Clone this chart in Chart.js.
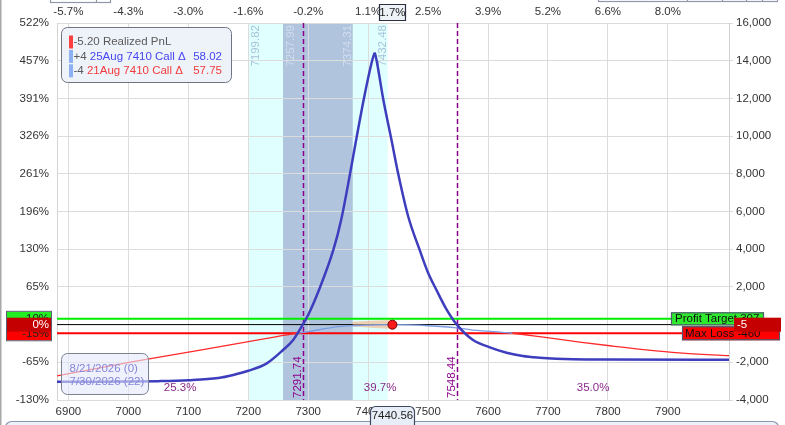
<!DOCTYPE html>
<html>
<head>
<meta charset="utf-8">
<title>Calendar P&amp;L</title>
<script src="https://cdn.jsdelivr.net/npm/chart.js@4.4.1/dist/chart.umd.min.js"></script>
<style>
  html, body { margin: 0; padding: 0; background: #fff; }
  #wrap { width: 785px; height: 425px; overflow: hidden; }
</style>
</head>
<body>
<div id="wrap"><canvas id="pnlChart" width="785" height="425"></canvas></div>
<script>
(function () {
    'use strict';

    // ---- data ----
    const xTicks = [6900, 7000, 7100, 7200, 7300, 7400, 7500, 7600, 7700, 7800, 7900];
    const topPctLabels = ['-5.7%', '-4.3%', '-3.0%', '-1.6%', '-0.2%', '1.1%', '2.5%', '3.9%', '5.2%', '6.6%', '8.0%'];
    const leftPctLabels = ['-130%', '-65%', '0%', '65%', '130%', '196%', '261%', '326%', '391%', '457%', '522%'];

    // expiry (8/21/2026) P&L
    const expPrices = [6881, 6950, 7000, 7050, 7100, 7150, 7175, 7200, 7231, 7258, 7275, 7289, 7300, 7318,
        7342, 7355, 7370, 7380, 7393, 7407, 7411, 7414, 7425, 7439, 7450, 7467, 7486, 7500, 7514, 7530,
        7548, 7575, 7603, 7631, 7658, 7686, 7714, 7742, 7800, 8002];
    const expPnl = [-3030, -3030, -3020, -3000, -2950, -2830, -2670, -2450, -2055, -1350, -815, -110, 510, 1835,
        3960, 5550, 8030, 9790, 12000, 14040, 14430, 14040, 12000, 9790, 8030, 5720, 3960, 2750, 1835, 850,
        0, -817, -1205, -1490, -1665, -1755, -1810, -1840, -1855, -1860];

    // today (7/30/2026) P&L
    const nowPrices = [6881, 7008, 7120, 7231, 7270, 7283, 7300, 7350, 7395, 7440, 7500, 7548, 7575, 7600,
        7641, 7686, 7753, 7808, 7864, 7919, 8002];
    const nowPnl = [-2725, -1970, -1350, -730, -515, -460, -375, -110, -30, -5, -60, -170, -290, -350,
        -460, -640, -930, -1140, -1340, -1500, -1650];

    // orange range band near the current price
    const bandPrices = [7374, 7405, 7440.56];
    const bandUpper = [150, 200, 250];
    const bandLower = [-100, -170, -240];

    const currentPrice = 7440.56;
    const currentPnl = -5;
    const currentPctLabel = '1.7%';
    const outerRange = [7199.82, 7432.48];
    const innerRange = [7257.99, 7374.31];
    const breakEvens = [7291.74, 7548.44];
    const probLabels = ['25.3%', '39.7%', '35.0%'];
    const profitTarget = 307;
    const maxLoss = -460;

    const legendQty = ['-5.20', '+4', '-4'];
    const legendNames = ['Realized PnL', '25Aug 7410 Call \u0394', '21Aug 7410 Call \u0394'];
    const legendDeltas = ['', '58.02', '57.75'];
    const dateLabels = ['8/21/2026 (0)', '7/30/2026 (22)'];

    const FONT = '"Liberation Sans", Arial, sans-serif';
    const font = size => size + 'px ' + FONT;

    const toPoints = (xs, ys) => xs.map((x, i) => ({ x, y: ys[i] }));
    const expPoints = toPoints(expPrices, expPnl);
    const peakIdx = expPnl.indexOf(Math.max(...expPnl));

    /** rotated text, reading bottom to top */
    function vText(ctx, text, x, y, color, align) {
        ctx.save();
        ctx.translate(x, y);
        ctx.rotate(-Math.PI / 2);
        ctx.font = font(11.5);
        ctx.textAlign = align;
        ctx.textBaseline = 'middle';
        ctx.fillStyle = color;
        ctx.fillText(text, 0, 0);
        ctx.restore();
    }

    function tag(ctx, x, y, w, h, fill, stroke) {
        ctx.fillStyle = fill;
        ctx.fillRect(x, y, w, h);
        if (stroke) {
            ctx.strokeStyle = stroke;
            ctx.lineWidth = 1.2;
            ctx.strokeRect(x + 0.5, y + 0.5, w - 1, h - 1);
        }
    }

    const decorations = {
        id: 'decorations',
        beforeDraw(chart) {
            const { ctx, chartArea: a, scales } = chart;
            const px = v => scales.x.getPixelForValue(v);
            ctx.save();
            ctx.fillStyle = '#e0ffff';
            ctx.fillRect(px(outerRange[0]), a.top, px(outerRange[1]) - px(outerRange[0]), a.bottom - a.top);
            ctx.fillStyle = '#b0c4de';
            ctx.fillRect(px(innerRange[0]), a.top, px(innerRange[1]) - px(innerRange[0]), a.bottom - a.top);

            vText(ctx, outerRange[0].toFixed(2), px(outerRange[0]) + 8, a.top + 2, '#a9c2d9', 'right');
            vText(ctx, innerRange[0].toFixed(2), px(innerRange[0]) + 8, a.top + 2, '#d2dded', 'right');
            vText(ctx, innerRange[1].toFixed(2), px(innerRange[1]) - 5, a.top + 2, '#d2dded', 'right');
            vText(ctx, outerRange[1].toFixed(2), px(outerRange[1]) - 5, a.top + 2, '#a9c2d9', 'right');

            // left window edge
            ctx.fillStyle = '#a8a8a8';
            ctx.fillRect(0, 0, 1.5, chart.height);
            ctx.restore();
        },
        beforeDatasetsDraw(chart) {
            const { ctx, chartArea: a, scales } = chart;
            const px = v => scales.x.getPixelForValue(v);
            const py = v => scales.y.getPixelForValue(v);
            ctx.save();
            ctx.strokeStyle = '#8b008b';
            ctx.lineWidth = 1.5;
            ctx.setLineDash([5, 3]);
            breakEvens.forEach(v => {
                ctx.beginPath();
                ctx.moveTo(Math.round(px(v)) + 0.5, a.top);
                ctx.lineTo(Math.round(px(v)) + 0.5, a.bottom);
                ctx.stroke();
            });
            ctx.setLineDash([]);

            const hLine = (v, color, w) => {
                ctx.strokeStyle = color;
                ctx.lineWidth = w;
                ctx.beginPath();
                ctx.moveTo(a.left, py(v));
                ctx.lineTo(a.right, py(v));
                ctx.stroke();
            };
            hLine(profitTarget, '#00ee00', 2);
            hLine(0, '#000', 1);
            hLine(maxLoss, '#ff0000', 2);
            ctx.restore();
        },
        afterDatasetsDraw(chart) {
            const { ctx, chartArea: a, scales } = chart;
            const px = v => scales.x.getPixelForValue(v);
            const py = v => scales.y.getPixelForValue(v);
            ctx.save();

            // break-even labels
            breakEvens.forEach(v => vText(ctx, v.toFixed(2), px(v) - 5, a.bottom - 2, '#8b008b', 'left'));

            // probability labels between break-evens
            const edges = [scales.x.min, ...breakEvens, scales.x.max];
            ctx.font = font(11.5);
            ctx.textAlign = 'center';
            ctx.textBaseline = 'middle';
            ctx.fillStyle = '#8b2a8b';
            probLabels.forEach((t, i) => ctx.fillText(t, px((edges[i] + edges[i + 1]) / 2), a.bottom - 12));

            // legend box
            ctx.beginPath();
            ctx.roundRect(61.5, 27.5, 170, 55, 6);
            ctx.fillStyle = '#eef2f9';
            ctx.fill();
            ctx.strokeStyle = '#6e7482';
            ctx.lineWidth = 1;
            ctx.stroke();
            ctx.textAlign = 'left';
            const barColors = ['#ff4040', '#8cb0f0', '#8cb0f0'];
            const nameColors = ['#5a5a5a', '#4646f0', '#f23c3c'];
            legendQty.forEach((q, i) => {
                const y = 42 + i * 14.4;
                ctx.fillStyle = barColors[i];
                ctx.fillRect(69, y - 6.5, 4, 13);
                ctx.textAlign = 'left';
                ctx.fillStyle = '#5a5a5a';
                ctx.fillText(q, 73.5, y);
                const x = 73.5 + ctx.measureText(q + ' ').width;
                ctx.fillStyle = nameColors[i];
                ctx.fillText(legendNames[i], x, y);
                if (legendDeltas[i]) {
                    ctx.textAlign = 'right';
                    ctx.fillText(legendDeltas[i], 222, y);
                }
            });

            // date box
            ctx.beginPath();
            ctx.roundRect(61.5, 353.5, 87, 41, 6);
            ctx.fillStyle = 'rgba(228,234,250,0.6)';
            ctx.fill();
            ctx.strokeStyle = '#7a8292';
            ctx.stroke();
            ctx.textAlign = 'left';
            ctx.fillStyle = '#8686dc';
            dateLabels.forEach((t, i) => ctx.fillText(t, 69.5, 369 + i * 12.8));

            // left value tags
            ctx.textAlign = 'right';
            tag(ctx, 7, py(profitTarget) - 7, 44, 14, '#22ee22');
            ctx.fillStyle = '#222';
            ctx.fillText(Math.round(profitTarget / 3067 * 100) + '%', 49, py(profitTarget));
            tag(ctx, 7, py(maxLoss) - 7, 44, 14, '#ff0000');
            ctx.fillStyle = '#222';
            ctx.fillText('-15%', 49, py(maxLoss) + 1);
            tag(ctx, 7, py(currentPnl) - 7, 44, 14, '#c40000');
            ctx.fillStyle = '#fff';
            ctx.fillText('0%', 49, py(currentPnl));
            ctx.strokeStyle = '#5a6070';
            ctx.lineWidth = 1;
            ctx.strokeRect(6.5, py(profitTarget) - 7.5, 45, py(maxLoss) - py(profitTarget) + 15);

            // right value tags
            ctx.textAlign = 'left';
            tag(ctx, 671, py(profitTarget) - 6.5, 93, 13, '#2eea2e', '#505870');
            ctx.fillStyle = '#111';
            ctx.fillText('Profit Target ' + profitTarget, 675, py(profitTarget));
            tag(ctx, 682, py(maxLoss) - 7, 98, 14, '#ff0000', '#505870');
            ctx.fillStyle = '#111';
            ctx.fillText('Max Loss ' + maxLoss, 685, py(maxLoss) + 0.5);
            tag(ctx, 734, py(currentPnl) - 7, 47, 14, '#c40000');
            ctx.fillStyle = '#fff';
            ctx.fillText(String(currentPnl), 737, py(currentPnl));

            // current price markers on both x axes
            const cx = px(currentPrice);
            ctx.beginPath();
            ctx.rect(Math.round(cx - 13) + 0.5, 4.5, 26, 16);
            ctx.fillStyle = '#eef3f8';
            ctx.fill();
            ctx.strokeStyle = '#2a3040';
            ctx.stroke();
            ctx.fillStyle = '#222';
            ctx.textAlign = 'center';
            ctx.fillText(currentPctLabel, cx, 13);

            // bottom panel edge
            ctx.beginPath();
            ctx.roundRect(5.5, 421.5, 773, 20, 6);
            ctx.fillStyle = '#eef2f8';
            ctx.fill();
            ctx.strokeStyle = '#8a98b0';
            ctx.stroke();

            ctx.beginPath();
            ctx.roundRect(Math.round(cx - 22) + 0.5, 406.5, 44, 25, 5);
            ctx.fillStyle = '#e8eef8';
            ctx.fill();
            ctx.strokeStyle = '#404860';
            ctx.stroke();
            ctx.fillStyle = '#222';
            ctx.fillText(currentPrice.toFixed(2), cx, 415.5);

            // toolbar remnants at the very top
            ctx.strokeStyle = '#9098a8';
            ctx.strokeRect(50.5, -5, 60, 7.5);
            ctx.strokeRect(598.5, -5, 179, 6.5);
            [96.5, 687.5, 722.5, 746.5, 762.5].forEach(x => {
                ctx.beginPath();
                ctx.moveTo(x, 0);
                ctx.lineTo(x, x < 200 ? 2.5 : 1.5);
                ctx.stroke();
            });
            ctx.restore();
        }
    };

    Chart.defaults.font.family = FONT;
    Chart.defaults.font.size = 11.5;
    Chart.defaults.color = '#333';

    const fixTicks = scale => { scale.ticks = xTicks.map(v => ({ value: v })); };

    new Chart(document.getElementById('pnlChart'), {
        type: 'line',
        data: {
            datasets: [
                {
                    label: 'range top',
                    data: toPoints(bandPrices, bandUpper),
                    borderWidth: 0,
                    pointRadius: 0,
                    fill: false,
                    order: 3
                },
                {
                    label: 'range bottom',
                    data: toPoints(bandPrices, bandLower),
                    borderWidth: 0,
                    pointRadius: 0,
                    fill: '-1',
                    backgroundColor: 'rgba(244,178,130,0.6)',
                    order: 3
                },
                {
                    label: dateLabels[1],
                    data: toPoints(nowPrices, nowPnl),
                    borderWidth: 1.3,
                    pointRadius: 0,
                    cubicInterpolationMode: 'monotone',
                    borderColor: '#7b9ce2',
                    segment: {
                        borderColor: c => (c.p0.parsed.y + c.p1.parsed.y) / 2 < maxLoss ? '#ff2a2a' : '#7b9ce2'
                    },
                    order: 2
                },
                {
                    label: dateLabels[0],
                    data: expPoints.slice(0, peakIdx + 1),
                    borderColor: '#3d3dbd',
                    borderWidth: 2.5,
                    pointRadius: 0,
                    cubicInterpolationMode: 'monotone',
                    order: 1
                },
                {
                    label: dateLabels[0] + ' right',
                    data: expPoints.slice(peakIdx),
                    borderColor: '#3d3dbd',
                    borderWidth: 2.5,
                    pointRadius: 0,
                    cubicInterpolationMode: 'monotone',
                    order: 1
                },
                {
                    type: 'scatter',
                    label: 'current',
                    data: [{ x: currentPrice, y: currentPnl }],
                    pointRadius: 4.5,
                    backgroundColor: '#ff1a1a',
                    borderColor: '#6a0000',
                    borderWidth: 1,
                    order: 0
                }
            ]
        },
        options: {
            responsive: false,
            devicePixelRatio: 1,
            animation: false,
            events: [],
            layout: { padding: 0 },
            plugins: { legend: { display: false }, tooltip: { enabled: false } },
            scales: {
                x: {
                    type: 'linear',
                    position: 'bottom',
                    min: 6881,
                    max: 8002,
                    afterBuildTicks: fixTicks,
                    afterFit: s => { s.height = 25; },
                    ticks: { padding: 5, maxRotation: 0, autoSkip: false, callback: v => String(v) },
                    grid: { color: '#dcdcdc', drawTicks: false },
                    border: { display: false }
                },
                xTop: {
                    type: 'linear',
                    position: 'top',
                    min: 6881,
                    max: 8002,
                    afterBuildTicks: fixTicks,
                    afterFit: s => { s.height = 23; },
                    ticks: { padding: 4, maxRotation: 0, autoSkip: false, callback: (v, i) => topPctLabels[i] },
                    grid: { display: false, drawTicks: false },
                    border: { display: false }
                },
                yL: {
                    type: 'linear',
                    position: 'left',
                    min: -4000,
                    max: 16000,
                    afterFit: s => { s.width = 57; },
                    ticks: { stepSize: 2000, padding: 8, callback: (v, i) => leftPctLabels[i] },
                    grid: { display: false, drawTicks: false },
                    border: { color: '#d4d4d4' }
                },
                y: {
                    type: 'linear',
                    position: 'right',
                    min: -4000,
                    max: 16000,
                    afterFit: s => { s.width = 56; },
                    ticks: { stepSize: 2000, padding: 3, callback: v => v.toLocaleString('en-US') },
                    grid: { color: '#dcdcdc', drawTicks: true, tickLength: 4 },
                    border: { color: '#cfcfcf' }
                }
            }
        },
        plugins: [decorations]
    });
})();
</script>
</body>
</html>
